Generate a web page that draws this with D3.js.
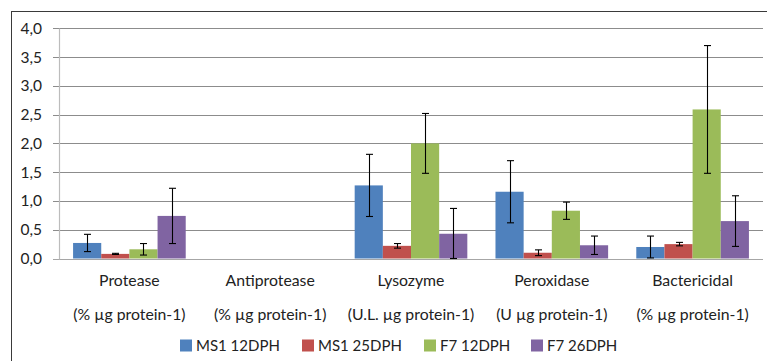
<!DOCTYPE html>
<html>
<head>
<meta charset="utf-8">
<script src="https://cdn.jsdelivr.net/npm/d3@7"></script>
<style>
  html, body { margin: 0; padding: 0; background: #fff; }
  svg { display: block; }
  text { font-family: Lato, "Open Sans", sans-serif; fill: #222; }
</style>
</head>
<body>
<svg id="chart" width="767" height="361"></svg>
<script>
// Immune parameters by group
const categories = ["Protease", "Antiprotease", "Lysozyme", "Peroxidase", "Bactericidal"];
const units = ["(% µg protein-1)", "(% µg protein-1)", "(U.L. µg protein-1)", "(U µg protein-1)", "(% µg protein-1)"];
const seriesNames = ["MS1 12DPH", "MS1 25DPH", "F7 12DPH", "F7 26DPH"];
const seriesColors = ["#4F81BD", "#C0504D", "#9BBB59", "#8064A2"];

// mean values, one array per series (order follows categories)
const ms1_12 = [0.27, 0, 1.27, 1.16, 0.20];
const ms1_25 = [0.08, 0, 0.22, 0.10, 0.25];
const f7_12  = [0.16, 0, 2.00, 0.83, 2.59];
const f7_26  = [0.74, 0, 0.43, 0.23, 0.65];

// standard deviations (error bars)
const ms1_12_sd = [0.15, 0, 0.54, 0.54, 0.19];
const ms1_25_sd = [0.01, 0, 0.04, 0.05, 0.03];
const f7_12_sd  = [0.10, 0, 0.52, 0.15, 1.11];
const f7_26_sd  = [0.48, 0, 0.44, 0.16, 0.44];

const yTicks = [0, 0.5, 1, 1.5, 2, 2.5, 3, 3.5, 4];

const values = [ms1_12, ms1_25, f7_12, f7_26];
const sds = [ms1_12_sd, ms1_25_sd, f7_12_sd, f7_26_sd];

const svg = d3.select("#chart");

// chart frame
svg.append("rect")
  .attr("x", 11.5).attr("y", 11.5)
  .attr("width", 800).attr("height", 400)
  .attr("fill", "none").attr("stroke", "#3a3a3a").attr("stroke-width", 1);

const plot = { left: 59, right: 763, top: 28.3, bottom: 258.5 };

const y = d3.scaleLinear().domain([0, 4]).range([plot.bottom, plot.top]);
const x = d3.scaleBand().domain(categories).range([plot.left, plot.right]).padding(0);
const xs = d3.scaleBand().domain(seriesNames).range([0, x.bandwidth()])
  .paddingInner(0).paddingOuter(0.5);

// gridlines
svg.append("g")
  .selectAll("line")
  .data(yTicks)
  .join("line")
  .attr("x1", plot.left - 6).attr("x2", plot.right)
  .attr("y1", d => Math.round(y(d)) + 0.5).attr("y2", d => Math.round(y(d)) + 0.5)
  .attr("stroke", d => d === 0 ? "#a6a6a6" : "#8c8c8c").attr("stroke-width", 1);

// y axis line
svg.append("line")
  .attr("x1", plot.left + 0.5).attr("x2", plot.left + 0.5)
  .attr("y1", Math.round(y(4)) + 0.5).attr("y2", Math.round(y(0)) + 0.5)
  .attr("stroke", "#bcbcbc").attr("stroke-width", 1.2);

// y tick labels
const fmt = d => d3.format(".1f")(d).replace(".", ",");
svg.append("g")
  .selectAll("text")
  .data(yTicks)
  .join("text")
  .attr("x", 42).attr("y", d => y(d))
  .attr("dy", "0.35em")
  .attr("text-anchor", "end")
  .attr("font-size", 15.5)
  .text(fmt);

// bars
const groups = svg.append("g")
  .selectAll("g")
  .data(seriesNames)
  .join("g")
  .attr("fill", (d, i) => seriesColors[i]);

groups.each(function (name, si) {
  const g = d3.select(this);
  const rows = categories.map((c, ci) => ({ c, v: values[si][ci], sd: sds[si][ci] }));
  g.selectAll("rect")
    .data(rows.filter(r => r.v > 0))
    .join("rect")
    .attr("x", r => x(r.c) + xs(name))
    .attr("y", r => y(r.v))
    .attr("width", xs.bandwidth())
    .attr("height", r => y(0) - y(r.v));

  // error bars
  const eb = g.append("g").attr("stroke", "#000").attr("stroke-width", 1.1).attr("fill", "none");
  rows.filter(r => r.v > 0).forEach(r => {
    const cx = Math.round(x(r.c) + xs(name) + xs.bandwidth() / 2) + 0.5;
    const y1 = y(Math.max(0, r.v - r.sd));
    const y2 = y(r.v + r.sd);
    eb.append("line").attr("x1", cx).attr("x2", cx).attr("y1", y1).attr("y2", y2);
    eb.append("line").attr("x1", cx - 3.5).attr("x2", cx + 3.5).attr("y1", y1).attr("y2", y1);
    eb.append("line").attr("x1", cx - 3.5).attr("x2", cx + 3.5).attr("y1", y2).attr("y2", y2);
  });
});

// category labels
const cat = svg.append("g").attr("text-anchor", "middle").attr("font-size", 15.8);
cat.selectAll("text.name")
  .data(categories)
  .join("text")
  .attr("class", "name")
  .attr("x", d => x(d) + x.bandwidth() / 2)
  .attr("y", 286)
  .text(d => d);
cat.selectAll("text.unit")
  .data(categories)
  .join("text")
  .attr("class", "unit")
  .attr("x", d => x(d) + x.bandwidth() / 2)
  .attr("y", 320)
  .text((d, i) => units[i]);

// legend
const legendX = [180, 302, 424, 531];
const legend = svg.append("g");
seriesNames.forEach((name, i) => {
  legend.append("rect")
    .attr("x", legendX[i]).attr("y", 339.5)
    .attr("width", 12).attr("height", 12)
    .attr("fill", seriesColors[i]);
  legend.append("text")
    .attr("x", legendX[i] + 16).attr("y", 350.5)
    .attr("font-size", 15)
    .text(name);
});
</script>
</body>
</html>
